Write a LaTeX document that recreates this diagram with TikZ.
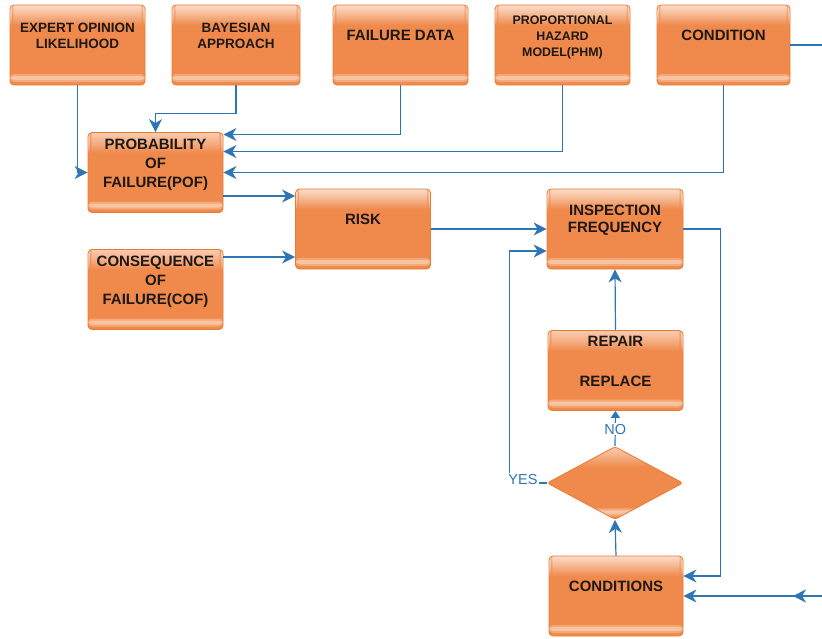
\documentclass[tikz,border=0pt]{standalone}
\usepackage{fontspec}
\setmainfont{Liberation Sans}
\usetikzlibrary{shapes.geometric,arrows.meta}

\definecolor{orMain}{RGB}{240,138,76}
\definecolor{orHigh}{RGB}{252,228,212}
\definecolor{orStrip}{RGB}{250,204,172}
\definecolor{orEdge}{RGB}{232,122,52}
\definecolor{lnk}{RGB}{46,117,182}
\definecolor{txt}{RGB}{30,24,20}

% box text sits a little above the middle
\newcommand\boxtxt[1]{\begin{tabular}{@{}c@{}}#1\\[16pt]\end{tabular}}

\begin{document}
\begin{tikzpicture}[x=1pt,y=1pt,
    glossbox/.style={fill=orMain,draw=orEdge,line width=0.8pt,
      path picture={
        \foreach \i [evaluate=\i as \op using (20-\i)/22] in {0,...,19}
          \fill[orHigh,opacity=\op] ([yshift={-1pt*\i}]path picture bounding box.north west)
            rectangle ([yshift={-1pt*\i-1pt}]path picture bounding box.north east);
        \fill[orStrip,opacity=0.45] ([yshift=3pt]path picture bounding box.south west)
          rectangle ([yshift=11pt]path picture bounding box.south east);
        \fill[orStrip,opacity=0.8] ([yshift=5pt]path picture bounding box.south west)
          rectangle ([yshift=9pt]path picture bounding box.south east);
      }},
    box/.style={glossbox,rounded corners=4pt,minimum width=135pt,minimum height=80pt,
      inner sep=0pt,text=txt,font=\fontsize{15}{18}\selectfont\bfseries},
    decbox/.style={glossbox,diamond,rounded corners=3pt,minimum width=136pt,minimum height=73pt,inner sep=0pt},
    arr/.style={draw=lnk,line width=1.2pt,-{Stealth[length=13pt,width=13pt,inset=4pt]}},
    lbl/.style={text=lnk,font=\fontsize{14.5}{16}\selectfont,inner sep=1pt,fill=white}]
  \useasboundingbox (0,0) rectangle (822,-638);

  % top row
  \node[box,font=\fontsize{13.5}{16.5}\selectfont\bfseries] (expert) at (77.5,-45) {\boxtxt{EXPERT OPINION\\LIKELIHOOD}};
  \node[box,minimum width=128pt,font=\fontsize{13.5}{16.5}\selectfont\bfseries] (bayes) at (236,-45) {\boxtxt{BAYESIAN\\APPROACH}};
  \node[box] (fdata) at (400.5,-45) {\boxtxt{FAILURE DATA}};
  \node[box,font=\fontsize{12.4}{16}\selectfont\bfseries] (phm) at (562.5,-45) {\boxtxt{PROPORTIONAL\\HAZARD\\MODEL(PHM)}};
  \node[box,minimum width=133pt] (cond) at (723.5,-45) {\boxtxt{CONDITION}};

  % risk part
  \node[box,font=\fontsize{15}{19}\selectfont\bfseries] (pof) at (155.5,-172.5) {\boxtxt{PROBABILITY\\OF\\FAILURE(POF)}};
  \node[box,font=\fontsize{15}{19}\selectfont\bfseries] (cof) at (155.5,-289.5) {\boxtxt{CONSEQUENCE\\OF\\FAILURE(COF)}};
  \node[box] (risk) at (363,-229) {\boxtxt{RISK}};

  % inspection loop
  \node[box,minimum width=136pt,font=\fontsize{15}{17}\selectfont\bfseries] (insp) at (615,-229) {\boxtxt{INSPECTION\\FREQUENCY}};
  \node[box] (repair) at (615.5,-370.5) {\boxtxt{REPAIR\\[22pt]REPLACE}};
  \node[decbox] (dec) at (615,-483) {};
  \node[box,minimum width=134pt] (conds) at (616,-596) {\boxtxt{CONDITIONS}};

  \coordinate (rightTop) at (822,-45);
  \coordinate (rightBot) at (822,-596);

  \draw[arr] (expert.south) |- (pof.west);
  \draw[arr] (bayes.south) -- ++(0,-28) -| (pof.north);
  \draw[arr] (fdata.south) |- ([yshift=38pt]pof.east);
  \draw[arr] (phm.south) |- ([yshift=21pt]pof.east);
  \draw[arr] (cond.south) |- (pof.east);
  \draw[lnk,line width=1.2pt] (cond.east) -- (rightTop);

  \draw[arr] ([yshift=-23.5pt]pof.east) -- ([yshift=33pt]risk.west);
  \draw[arr] ([yshift=32.5pt]cof.east) -- ([yshift=-28pt]risk.west);
  \draw[arr] (risk.east) -- (insp.west);

  \draw[arr] (insp.east) -- ++(37,0) |- ([yshift=20pt]conds.east);
  \draw[arr] (conds.north) -- (dec.south);
  \draw[draw=lnk,line width=1.2pt,-{Triangle[length=7pt,width=9pt]}] (dec.north) -- (repair.south)
    node[lbl,pos=0.48] (no) {NO};
  \draw[arr] (dec.west) -- ++(-37,0) |- ([yshift=-22pt]insp.west);
  \node[lbl] (yes) at (523,-479) {YES};
  \draw[arr] (repair.north) -- (insp.south);

  \draw[arr] (rightBot) -- ++(-29,0);
  \draw[arr] (rightBot) -- (conds.east);
\end{tikzpicture}
\end{document}
